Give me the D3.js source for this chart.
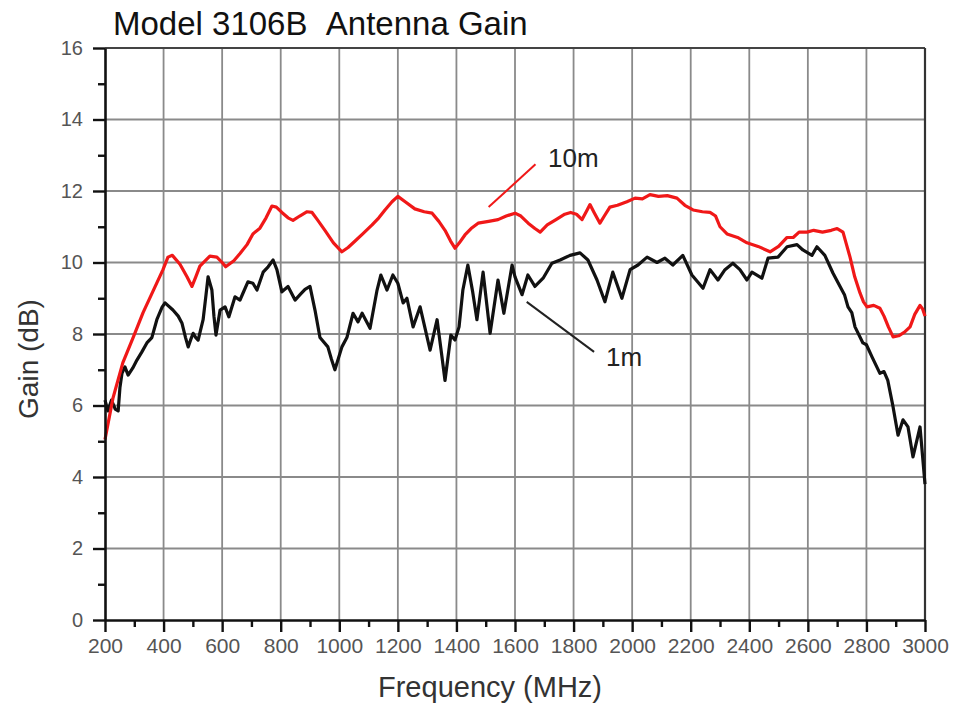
<!DOCTYPE html>
<html>
<head>
<meta charset="utf-8">
<script src="https://cdn.jsdelivr.net/npm/d3@7"></script>
<style>
  html, body { margin: 0; padding: 0; background: #fff; }
  svg { display: block; }
  text { font-family: "Liberation Sans", Arial, sans-serif; }
</style>
</head>
<body>
<svg id="chart" width="955" height="707"></svg>
<script>
// Antenna gain measured at 10 m and 1 m separation
const freq10m = [200,227,261,296,330,364,398,415,430,456,480,497,510,524,558,582,600,612,640,661,685,705,729,750,770,785,804,825,842,865,890,907,925,951,980,1009,1030,1054,1080,1112,1135,1156,1180,1200,1225,1258,1290,1317,1340,1361,1380,1395,1410,1429,1450,1474,1510,1542,1570,1600,1620,1645,1668,1686,1710,1740,1770,1790,1810,1829,1845,1856,1870,1890,1905,1924,1950,1982,2010,2035,2061,2090,2120,2153,2180,2208,2240,2266,2285,2300,2324,2360,2392,2430,2471,2500,2529,2550,2570,2597,2620,2650,2680,2700,2720,2732,2744,2760,2778,2790,2802,2825,2846,2860,2875,2891,2910,2930,2949,2965,2983,2992,3000];
const gain10m = [5.05,6.2,7.2,7.9,8.6,9.2,9.8,10.15,10.2,9.95,9.6,9.33,9.6,9.9,10.18,10.15,10.0,9.88,10.05,10.25,10.5,10.8,10.96,11.25,11.58,11.55,11.4,11.25,11.18,11.3,11.42,11.4,11.2,10.9,10.55,10.3,10.42,10.6,10.8,11.05,11.25,11.47,11.7,11.85,11.7,11.5,11.42,11.38,11.15,10.9,10.6,10.4,10.55,10.77,10.95,11.1,11.15,11.2,11.3,11.38,11.3,11.1,10.95,10.85,11.05,11.2,11.35,11.4,11.35,11.2,11.45,11.62,11.4,11.1,11.3,11.55,11.6,11.7,11.8,11.78,11.9,11.85,11.87,11.8,11.6,11.47,11.42,11.4,11.3,11.0,10.8,10.7,10.55,10.45,10.3,10.45,10.7,10.7,10.85,10.85,10.9,10.85,10.9,10.95,10.85,10.5,10.15,9.6,9.15,8.9,8.76,8.8,8.72,8.5,8.2,7.92,7.95,8.05,8.2,8.55,8.8,8.7,8.5];

const freq1m = [200,210,222,235,245,251,258,268,279,295,309,326,343,360,377,395,405,432,450,463,475,484,493,501,510,518,535,545,552,565,572,579,593,610,623,644,661,671,688,705,719,740,757,774,787,804,825,849,866,883,900,917,934,961,973,985,1009,1026,1047,1064,1078,1105,1129,1142,1163,1183,1200,1218,1231,1252,1276,1310,1334,1350,1361,1381,1395,1409,1422,1439,1455,1470,1491,1515,1542,1562,1590,1600,1624,1644,1668,1696,1726,1754,1788,1822,1849,1880,1907,1934,1965,1993,2020,2051,2085,2112,2139,2173,2204,2242,2266,2293,2317,2344,2368,2392,2409,2443,2464,2498,2529,2563,2583,2614,2631,2658,2686,2710,2725,2737,2750,2761,2788,2800,2819,2846,2860,2873,2891,2908,2925,2942,2959,2983,3000];
const gain1m = [6.15,5.85,6.15,5.9,5.85,6.5,6.9,7.08,6.85,7.05,7.27,7.5,7.75,7.9,8.4,8.75,8.87,8.67,8.5,8.3,7.9,7.64,7.85,8.02,7.9,7.83,8.4,9.1,9.6,9.23,8.5,7.97,8.67,8.76,8.48,9.04,8.95,9.14,9.46,9.42,9.23,9.73,9.88,10.07,9.8,9.18,9.33,8.95,9.1,9.25,9.33,8.67,7.9,7.64,7.3,7.0,7.64,7.9,8.58,8.34,8.58,8.16,9.23,9.65,9.23,9.65,9.42,8.87,9.0,8.2,8.76,7.55,8.4,7.4,6.7,7.97,7.83,8.2,9.23,9.93,9.2,8.4,9.73,8.02,9.51,8.58,9.93,9.6,9.1,9.65,9.33,9.56,9.98,10.07,10.2,10.27,10.07,9.51,8.9,9.73,9.0,9.8,9.93,10.15,10.0,10.12,9.93,10.2,9.65,9.28,9.8,9.51,9.8,9.98,9.8,9.51,9.73,9.56,10.12,10.15,10.44,10.5,10.35,10.2,10.44,10.2,9.7,9.33,9.1,8.76,8.6,8.2,7.75,7.7,7.36,6.9,6.95,6.7,5.96,5.17,5.6,5.4,4.56,5.4,3.8];

const xTickValues = [200,400,600,800,1000,1200,1400,1600,1800,2000,2200,2400,2600,2800,3000];
const yTickValues = [0,2,4,6,8,10,12,14,16];

const svg = d3.select("#chart");
const plot = { left: 105, right: 925, top: 48, bottom: 620 };

const x = d3.scaleLinear().domain([200, 3000]).range([plot.left, plot.right]);
const y = d3.scaleLinear().domain([0, 16]).range([plot.bottom, plot.top]);

// grid
const grid = svg.append("g").attr("stroke", "#8a8a8a").attr("stroke-width", 1.8);
grid.selectAll("line.vx").data(xTickValues.slice(1, -1)).join("line")
  .attr("x1", d => x(d)).attr("x2", d => x(d))
  .attr("y1", plot.top).attr("y2", plot.bottom);
grid.selectAll("line.hy").data(yTickValues.slice(1, -1)).join("line")
  .attr("x1", plot.left).attr("x2", plot.right)
  .attr("y1", d => y(d)).attr("y2", d => y(d));

// frame top / right
svg.append("line").attr("x1", plot.left).attr("x2", plot.right)
  .attr("y1", plot.top).attr("y2", plot.top)
  .attr("stroke", "#444").attr("stroke-width", 2.2);
svg.append("line").attr("x1", plot.right).attr("x2", plot.right)
  .attr("y1", plot.top).attr("y2", plot.bottom)
  .attr("stroke", "#333").attr("stroke-width", 2.2);

// curves
const line = d3.line().x(d => x(d[0])).y(d => y(d[1]));
const data10m = freq10m.map((f, i) => [f, gain10m[i]]);
const data1m = freq1m.map((f, i) => [f, gain1m[i]]);

svg.append("path").datum(data1m).attr("d", line)
  .attr("fill", "none").attr("stroke", "#111").attr("stroke-width", 3.2)
  .attr("stroke-linejoin", "round");
svg.append("path").datum(data10m).attr("d", line)
  .attr("fill", "none").attr("stroke", "#f01818").attr("stroke-width", 3.2)
  .attr("stroke-linejoin", "round");

// axes
const xAxis = d3.axisBottom(x).tickValues(xTickValues).tickFormat(d3.format("d"))
  .tickSize(12).tickPadding(6).tickSizeOuter(0);
const gx = svg.append("g").attr("transform", `translate(0,${plot.bottom})`).call(xAxis);
const yAxis = d3.axisLeft(y).tickValues(yTickValues).tickFormat(d3.format("d"))
  .tickSize(12).tickPadding(10).tickSizeOuter(0);
const gy = svg.append("g").attr("transform", `translate(${plot.left},0)`).call(yAxis);

// minor ticks
const xMinor = d3.axisBottom(x).tickValues(d3.range(300, 3000, 200)).tickSize(7).tickFormat("").tickSizeOuter(0);
svg.append("g").attr("transform", `translate(0,${plot.bottom})`).call(xMinor).select(".domain").remove();
const yMinor = d3.axisLeft(y).tickValues(d3.range(1, 16, 2)).tickSize(7).tickFormat("").tickSizeOuter(0);
svg.append("g").attr("transform", `translate(${plot.left},0)`).call(yMinor).select(".domain").remove();

svg.selectAll(".domain").attr("stroke", "#111").attr("stroke-width", 2.6);
svg.selectAll(".tick line").attr("stroke", "#111").attr("stroke-width", 2.4);
gx.selectAll(".tick text").attr("font-size", 21).attr("fill", "#555")
  .attr("font-family", "'Liberation Sans', Arial, sans-serif");
gy.selectAll(".tick text").attr("font-size", 20).attr("fill", "#555")
  .attr("font-family", "'Liberation Sans', Arial, sans-serif");

// titles
svg.append("text").attr("x", 113).attr("y", 35)
  .attr("font-size", 33).attr("fill", "#111")
  .text("Model 3106B\u00a0\u00a0Antenna Gain");
svg.append("text").attr("x", (plot.left + plot.right) / 2 - 25).attr("y", 697)
  .attr("text-anchor", "middle").attr("font-size", 29).attr("fill", "#333")
  .text("Frequency (MHz)");
svg.append("text").attr("transform", `translate(38,${(plot.top + plot.bottom) / 2 + 25}) rotate(-90)`)
  .attr("text-anchor", "middle").attr("font-size", 28).attr("fill", "#333")
  .text("Gain (dB)");

// series callouts
svg.append("line").attr("x1", x(1510)).attr("y1", y(11.55)).attr("x2", x(1670)).attr("y2", y(12.75))
  .attr("stroke", "#f01818").attr("stroke-width", 2);
svg.append("text").attr("x", 548).attr("y", 167).attr("font-size", 26).attr("fill", "#222").text("10m");
svg.append("line").attr("x1", x(1640)).attr("y1", y(8.9)).attr("x2", x(1870)).attr("y2", y(7.5))
  .attr("stroke", "#222").attr("stroke-width", 2);
svg.append("text").attr("x", 606).attr("y", 366).attr("font-size", 26).attr("fill", "#222").text("1m");
</script>
</body>
</html>
